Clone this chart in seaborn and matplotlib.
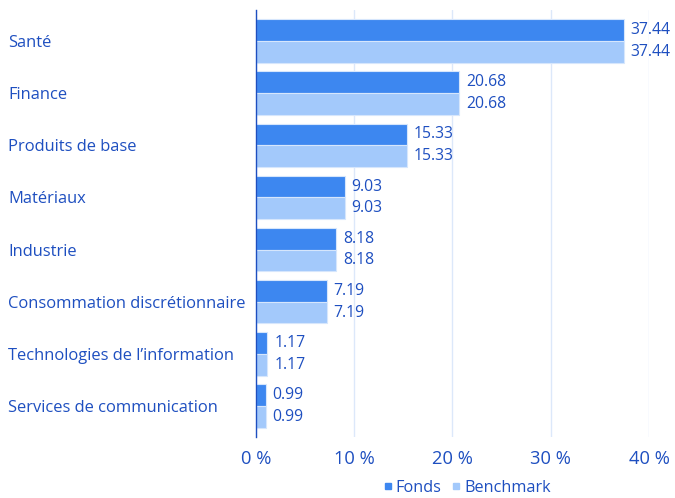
import matplotlib.pyplot as plt
import seaborn as sns
import pandas as pd
from matplotlib.lines import Line2D

sectors = ['Santé', 'Finance', 'Produits de base', 'Matériaux', 'Industrie',
           'Consommation discrétionnaire', 'Technologies de l\u2019information',
           'Services de communication']
fonds = [37.44, 20.68, 15.33, 9.03, 8.18, 7.19, 1.17, 0.99]
benchmark = [37.44, 20.68, 15.33, 9.03, 8.18, 7.19, 1.17, 0.99]
series = ['Fonds', 'Benchmark']
colors = ['#3d87f0', '#a3c9fb']
xticks = [0, 10, 20, 30, 40]

text_color = '#1e4fc0'

df = pd.DataFrame({
    'Secteur': sectors * 2,
    'Valeur': fonds + benchmark,
    'Serie': ['Fonds'] * len(sectors) + ['Benchmark'] * len(sectors),
})

sns.set_style('white')
plt.rcParams['font.family'] = ['Open Sans', 'DejaVu Sans']

fig = plt.figure(figsize=(6.75, 4.98), dpi=100)
ax = fig.add_axes([256 / 675, 1 - 437 / 498, (649 - 256) / 675, 427 / 498])

sns.barplot(data=df, y='Secteur', x='Valeur', hue='Serie', hue_order=series,
            palette=colors, orient='h', width=0.83, ax=ax, legend=False,
            edgecolor='#d6e6fc', linewidth=0.8, saturation=1)

for cont in ax.containers:
    ax.bar_label(cont, fmt='%.2f', padding=5, fontsize=11.3, color=text_color)

ax.set_xlim(0, 40)
ax.set_ylim(7.594, -0.594)
ax.set_xticks(xticks)
ax.set_xticklabels([f'{t} %' for t in xticks], fontsize=13.2, color=text_color)
ax.set_xlabel('')
ax.set_ylabel('')
ax.tick_params(axis='x', length=0, pad=9)
ax.tick_params(axis='y', length=0, pad=178.5)
for lab in ax.get_yticklabels():
    lab.set_ha('left')
    lab.set_color(text_color)
    lab.set_fontsize(11.9)

ax.grid(axis='x', color='#dce8fa', linewidth=1)
ax.set_axisbelow(True)
for s in ['top', 'right', 'bottom']:
    ax.spines[s].set_visible(False)
ax.spines['left'].set_color('#1e4fc0')
ax.spines['left'].set_linewidth(1)

handles = [Line2D([], [], marker='s', linestyle='', markersize=4.5,
                  color=c, label=s) for s, c in zip(series, colors)]
fig.legend(handles=handles, loc='center', bbox_to_anchor=(466 / 675, 1 - 488 / 498),
           ncol=2, frameon=False, fontsize=11.7, handletextpad=0.1,
           columnspacing=0.5, labelcolor=text_color, handlelength=0.8)

plt.savefig('out.png', dpi=100)
plt.close()
